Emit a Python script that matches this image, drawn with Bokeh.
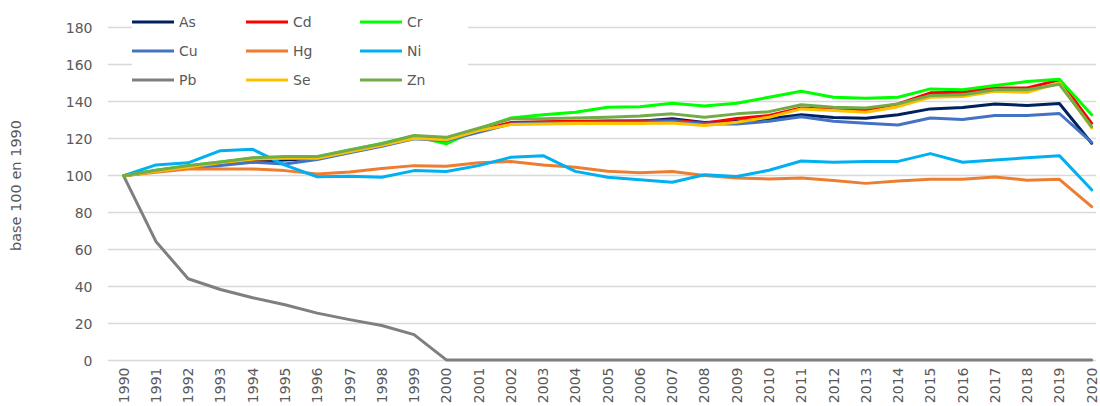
from bokeh.plotting import figure
from bokeh.models import Range1d, Legend, LegendItem, FixedTicker, ColumnDataSource
from bokeh.embed import file_html
from bokeh.resources import INLINE
import math

years = list(range(1990, 2021))

As = [100, 102.5, 104.5, 106, 108, 108.5, 109.5, 113, 116.5, 120.5, 119.5, 124, 128.5, 129, 129.3, 129.5,
      129.5, 130.8, 128.8, 129.5, 130.8, 133, 131.5, 131.1, 133, 136.2, 136.9, 138.9, 138, 139.1, 117.6]
Cd = [100, 102.8, 105, 107, 109, 109.5, 109.8, 113.5, 117, 121, 120, 124.5, 128.8, 129.2, 129.5, 129.7,
      129.8, 130, 128.5, 131, 132.6, 136.7, 135.8, 135.6, 138.9, 144.9, 145.2, 147.5, 147.5, 151.9, 128.4]
Cr = [100, 103, 105.5, 107.5, 109.5, 110, 110.2, 114, 117.5, 121.5, 117.3, 125.4, 131.3, 133, 134.4, 137.1,
      137.4, 139.2, 137.8, 139.2, 142.5, 145.7, 142.5, 141.9, 142.5, 147, 146.5, 148.8, 151, 152.2, 133]
Cu = [100, 102.5, 104.5, 105.5, 107.3, 106.4, 108.8, 112.5, 116, 120, 119, 123.5, 128, 128.5, 128.8, 129,
      129, 129.5, 128, 128, 129.5, 132, 129.5, 128.4, 127.5, 131.3, 130.4, 132.6, 132.6, 133.7, 118.1]
Hg = [100, 101.9, 103.7, 103.7, 103.7, 102.8, 101, 102, 104, 105.5, 105.2, 107, 107.7, 105.9, 104.6, 102.4,
      101.7, 102.3, 100.1, 98.8, 98.3, 98.8, 97.4, 95.9, 97.2, 98.1, 98.1, 99.4, 97.6, 98.1, 83.3]
Ni = [100, 105.9, 107, 113.6, 114.3, 105.8, 99.5, 99.7, 99.2, 102.8, 102.3, 105.5, 110, 110.9, 102.4, 99.2,
      97.8, 96.5, 100.6, 99.6, 103, 108, 107.3, 107.8, 107.8, 112, 107.3, 108.6, 109.7, 110.9, 92.4]
Pb = [100, 64.5, 44.3, 38.5, 34, 30.2, 25.7, 22.2, 19, 14.1, 0.4, 0.4, 0.4, 0.4, 0.4, 0.4,
      0.4, 0.4, 0.4, 0.4, 0.4, 0.4, 0.4, 0.4, 0.4, 0.4, 0.4, 0.4, 0.4, 0.4, 0.4]
Se = [100, 102.5, 104.8, 107, 109, 109.5, 109.5, 113, 116.5, 120.3, 119.5, 124.5, 127.7, 128, 128.3, 128.3,
      128.3, 128.5, 127.2, 129, 131.7, 136.2, 135.3, 134.4, 137.4, 142.5, 142.9, 145.7, 145.2, 150.2, 125.9]
Zn = [100, 103, 105.5, 107.5, 109.8, 110.4, 110.4, 114, 117.3, 121.8, 120.8, 125.7, 130.8, 130.8, 131.3, 131.7,
      132.4, 133.5, 131.7, 133.5, 134.7, 138.4, 137.1, 136.7, 138.9, 143.4, 143.9, 146.5, 146.5, 149.5, 126.6]

names = ["As", "Cd", "Cr", "Cu", "Hg", "Ni", "Pb", "Se", "Zn"]
series = [As, Cd, Cr, Cu, Hg, Ni, Pb, Se, Zn]
colors = ["#002060", "#FF0000", "#00FF00", "#4472C4", "#ED7D31", "#00B0F0", "#7F7F7F", "#FFC000", "#70AD47"]

y_ticks = list(range(0, 181, 20))
y_label = "base 100 en 1990"

FONT = "DejaVu Sans"
TXT = "#595959"

p = figure(width=1100, height=406, x_range=Range1d(1989.5, 2020.15), y_range=Range1d(-1, 190.5),
           output_backend="svg", toolbar_location=None,
           min_border_left=107, min_border_right=4, min_border_top=8, min_border_bottom=44)
p.outline_line_color = None
p.background_fill_color = "white"
p.border_fill_color = "white"

items = []
for n, s, c in zip(names, series, colors):
    src = ColumnDataSource(dict(x=years, y=s))
    r = p.line("x", "y", source=src, line_color=c, line_width=3, line_join="round", line_cap="round")
    items.append(LegendItem(label=n, renderers=[r]))

legend = Legend(items=items, location=(25, 271), orientation="horizontal", ncols=3,
                padding=3, spacing=6, glyph_width=42, glyph_height=23, label_height=23,
                label_width=61, label_standoff=5,
                label_text_font=FONT, label_text_font_size="14px", label_text_color=TXT,
                border_line_color=None, background_fill_color="white", background_fill_alpha=1.0)
p.add_layout(legend)

# axes
p.xaxis.ticker = FixedTicker(ticks=years)
p.xaxis.major_label_orientation = math.pi / 2
p.xaxis.axis_line_color = None
p.xaxis.major_tick_line_color = None
p.xaxis.minor_tick_line_color = None
p.xaxis.major_tick_out = 0
p.xaxis.major_tick_in = 0
p.xaxis.major_label_standoff = 5
p.xaxis.major_label_text_font = FONT
p.xaxis.major_label_text_font_size = "14px"
p.xaxis.major_label_text_color = TXT

p.yaxis.ticker = FixedTicker(ticks=y_ticks)
p.yaxis.bounds = (y_ticks[0], y_ticks[-1])
p.yaxis.axis_line_color = None
p.yaxis.major_tick_line_color = None
p.yaxis.minor_tick_line_color = None
p.yaxis.major_tick_out = 0
p.yaxis.major_tick_in = 0
p.yaxis.major_label_standoff = 15
p.yaxis.major_label_text_font = FONT
p.yaxis.major_label_text_font_size = "14px"
p.yaxis.major_label_text_color = TXT
p.yaxis.axis_label = y_label
p.yaxis.axis_label_standoff = 39
p.yaxis.axis_label_text_font = FONT
p.yaxis.axis_label_text_font_size = "14.5px"
p.yaxis.axis_label_text_font_style = "normal"
p.yaxis.axis_label_text_color = TXT

p.xgrid.grid_line_color = None
p.ygrid.grid_line_color = "#D9D9D9"
p.ygrid.grid_line_width = 1.3

open("out.html", "w").write(file_html(p, INLINE))
